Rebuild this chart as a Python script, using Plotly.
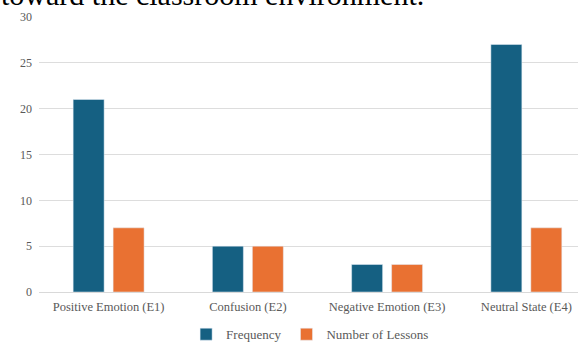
import plotly.graph_objects as go

categories = ["Positive Emotion (E1)", "Confusion (E2)", "Negative Emotion (E3)", "Neutral State (E4)"]
frequency = [21, 5, 3, 27]
lessons = [7, 5, 3, 7]
y_ticks = [0, 5, 10, 15, 20, 25, 30]

fig = go.Figure()
fig.add_trace(go.Bar(name="Frequency", x=categories, y=frequency, marker_color="#156082"))
fig.add_trace(go.Bar(name="Number of Lessons", x=categories, y=lessons, marker_color="#E97132"))

fig.update_layout(
    width=579, height=342,
    margin=dict(l=39, r=1, t=17, b=50, autoexpand=False),
    paper_bgcolor="white", plot_bgcolor="white",
    barmode="group", bargap=0.426, bargroupgap=0.225,
    font=dict(family="Liberation Serif", size=12, color="#595959"),
    showlegend=True,
    legend=dict(orientation="h", x=0.503, xanchor="center", y=-0.099, yanchor="top",
                font=dict(size=13, color="#595959"), itemwidth=30, traceorder="normal"),
    annotations=[dict(text="toward the classroom environment.", xref="paper", yref="paper",
                      x=-0.074, xanchor="left", y=1, yanchor="bottom", yshift=4, showarrow=False,
                      font=dict(family="Liberation Serif", size=30, color="black"))],
)
fig.update_xaxes(showgrid=False, showline=False, ticks="", ticklabelstandoff=5,
                 range=[-0.5, 3.371], tickfont=dict(size=12.5, color="#595959"))
fig.update_yaxes(range=[0, 30], tickvals=y_ticks, showgrid=True, gridcolor="#DDDDDD", gridwidth=1,
                 zeroline=True, zerolinecolor="#D9D9D9", zerolinewidth=1, ticklabelstandoff=6,
                 tickfont=dict(size=12, color="#595959"), ticks="", ticklen=0)

fig.write_html("out.html")
